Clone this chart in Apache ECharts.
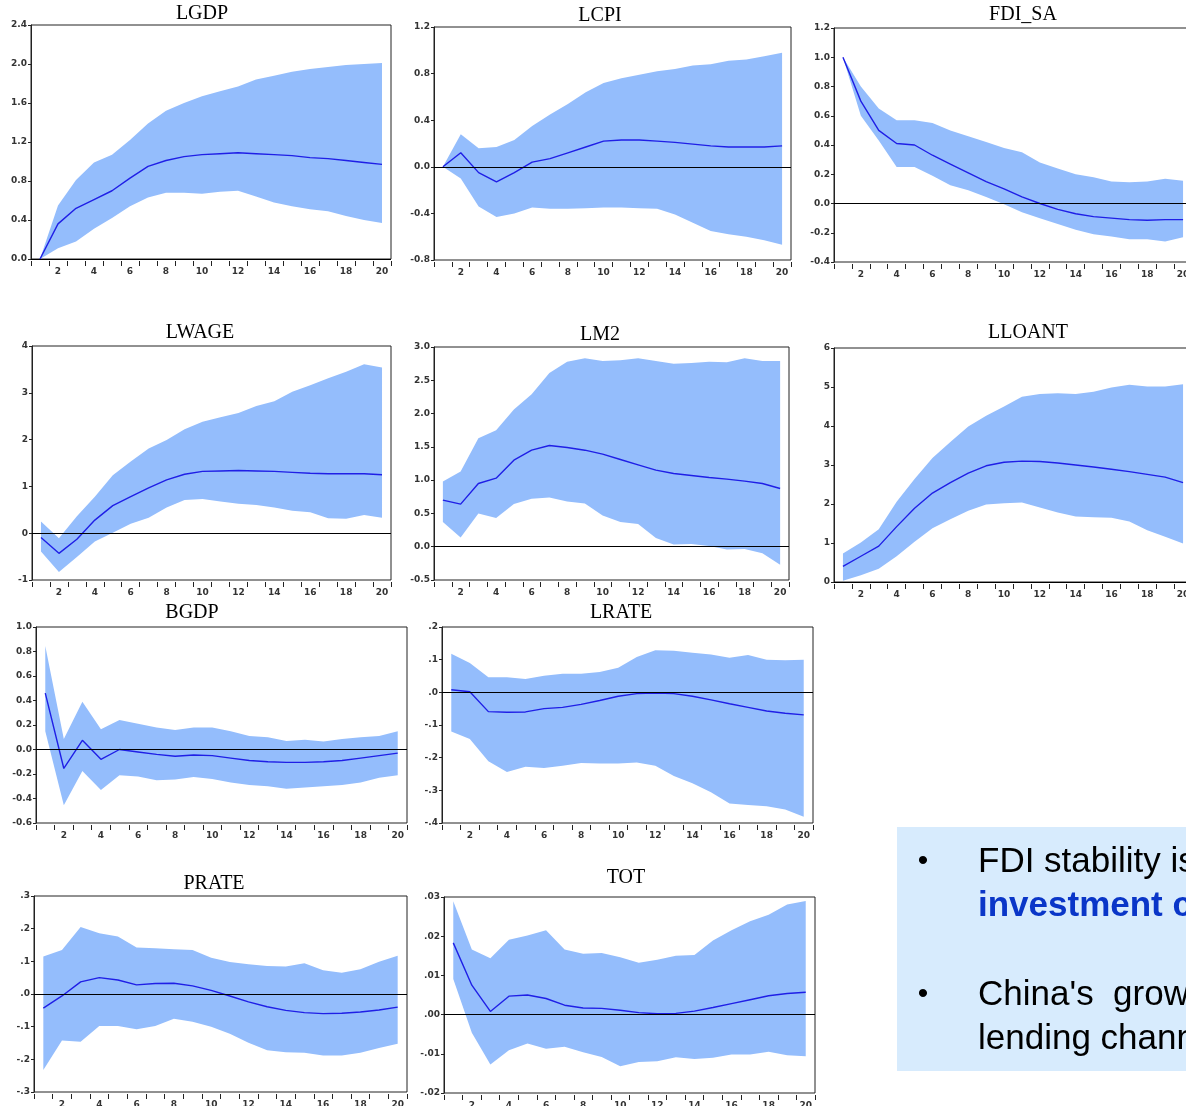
<!DOCTYPE html>
<html>
<head>
<meta charset="utf-8">
<script src="https://cdn.jsdelivr.net/npm/echarts@6/dist/echarts.min.js"></script>
<style>
  html, body { margin: 0; padding: 0; background: #fff; }
  #chart { width: 1186px; height: 1106px; }
</style>
</head>
<body>
<div id="chart"></div>
<script>
// periods 1..20
const periods = ['1','2','3','4','5','6','7','8','9','10','11','12','13','14','15','16','17','18','19','20'];

// impulse responses (line) with lower / upper bands
const lgdpLine  = [0, 0.36, 0.52, 0.61, 0.70, 0.83, 0.95, 1.01, 1.05, 1.07, 1.08, 1.09, 1.08, 1.07, 1.06, 1.04, 1.03, 1.01, 0.99, 0.97];
const lgdpLower = [0, 0.11, 0.18, 0.31, 0.42, 0.54, 0.63, 0.68, 0.68, 0.67, 0.69, 0.70, 0.64, 0.58, 0.54, 0.51, 0.49, 0.44, 0.40, 0.37];
const lgdpUpper = [0, 0.55, 0.81, 0.99, 1.07, 1.22, 1.39, 1.52, 1.60, 1.67, 1.72, 1.77, 1.84, 1.88, 1.92, 1.95, 1.97, 1.99, 2.00, 2.01];

const lcpiLine  = [0, 0.12, -0.05, -0.13, -0.05, 0.04, 0.07, 0.12, 0.17, 0.22, 0.23, 0.23, 0.22, 0.21, 0.195, 0.18, 0.17, 0.17, 0.17, 0.18];
const lcpiLower = [0, -0.10, -0.34, -0.43, -0.40, -0.35, -0.36, -0.36, -0.355, -0.35, -0.35, -0.355, -0.36, -0.41, -0.48, -0.55, -0.58, -0.60, -0.63, -0.67];
const lcpiUpper = [0, 0.28, 0.16, 0.17, 0.23, 0.35, 0.45, 0.54, 0.64, 0.72, 0.76, 0.79, 0.82, 0.84, 0.87, 0.88, 0.91, 0.92, 0.95, 0.98];

const fdiLine  = [1.0, 0.70, 0.50, 0.41, 0.40, 0.33, 0.27, 0.21, 0.15, 0.10, 0.045, 0.0, -0.04, -0.07, -0.09, -0.10, -0.11, -0.115, -0.11, -0.11];
const fdiLower = [1.0, 0.60, 0.43, 0.25, 0.25, 0.19, 0.125, 0.09, 0.045, -0.005, -0.06, -0.10, -0.14, -0.18, -0.21, -0.225, -0.245, -0.245, -0.26, -0.23];
const fdiUpper = [1.0, 0.80, 0.65, 0.57, 0.57, 0.55, 0.50, 0.46, 0.42, 0.38, 0.35, 0.28, 0.24, 0.20, 0.18, 0.15, 0.145, 0.15, 0.17, 0.155];

const lwageLine  = [-0.09, -0.43, -0.13, 0.28, 0.59, 0.78, 0.97, 1.14, 1.26, 1.32, 1.33, 1.34, 1.33, 1.32, 1.30, 1.28, 1.27, 1.27, 1.27, 1.25];
const lwageLower = [-0.39, -0.83, -0.51, -0.18, 0.01, 0.20, 0.33, 0.55, 0.71, 0.73, 0.68, 0.63, 0.60, 0.55, 0.48, 0.45, 0.32, 0.31, 0.39, 0.33];
const lwageUpper = [0.25, -0.11, 0.36, 0.78, 1.24, 1.53, 1.81, 1.99, 2.22, 2.38, 2.48, 2.57, 2.72, 2.82, 3.02, 3.16, 3.31, 3.45, 3.61, 3.54];

const lm2Line  = [0.70, 0.64, 0.95, 1.03, 1.30, 1.45, 1.52, 1.49, 1.45, 1.39, 1.31, 1.23, 1.15, 1.10, 1.07, 1.04, 1.015, 0.985, 0.95, 0.875];
const lm2Lower = [0.37, 0.14, 0.50, 0.43, 0.64, 0.72, 0.74, 0.68, 0.65, 0.47, 0.37, 0.34, 0.13, 0.035, 0.04, 0.01, -0.04, -0.035, -0.10, -0.27];
const lm2Upper = [0.98, 1.13, 1.63, 1.75, 2.06, 2.29, 2.61, 2.78, 2.83, 2.79, 2.80, 2.83, 2.79, 2.75, 2.76, 2.78, 2.77, 2.83, 2.79, 2.79];

const lloantLine  = [0.40, 0.66, 0.92, 1.42, 1.89, 2.28, 2.55, 2.79, 2.98, 3.07, 3.10, 3.09, 3.05, 3.00, 2.95, 2.89, 2.83, 2.76, 2.69, 2.55];
const lloantLower = [0.03, 0.17, 0.34, 0.66, 1.03, 1.38, 1.61, 1.83, 1.99, 2.02, 2.04, 1.91, 1.78, 1.68, 1.66, 1.65, 1.55, 1.33, 1.16, 0.99];
const lloantUpper = [0.73, 1.01, 1.35, 2.06, 2.64, 3.18, 3.59, 3.99, 4.26, 4.50, 4.75, 4.82, 4.84, 4.82, 4.88, 4.99, 5.06, 5.01, 5.01, 5.07];

const bgdpLine  = [0.46, -0.155, 0.075, -0.08, 0.0, -0.02, -0.04, -0.055, -0.045, -0.05, -0.07, -0.09, -0.10, -0.105, -0.105, -0.10, -0.09, -0.07, -0.05, -0.03];
const bgdpLower = [0.15, -0.455, -0.175, -0.33, -0.21, -0.22, -0.25, -0.245, -0.225, -0.24, -0.27, -0.29, -0.30, -0.32, -0.31, -0.30, -0.29, -0.27, -0.23, -0.21];
const bgdpUpper = [0.845, 0.085, 0.39, 0.165, 0.24, 0.21, 0.18, 0.16, 0.18, 0.18, 0.15, 0.11, 0.10, 0.07, 0.08, 0.065, 0.085, 0.10, 0.11, 0.15];

const lrateLine  = [0.008, 0.002, -0.059, -0.061, -0.06, -0.05, -0.046, -0.037, -0.025, -0.012, -0.004, -0.002, -0.004, -0.012, -0.023, -0.035, -0.046, -0.057, -0.064, -0.069];
const lrateLower = [-0.12, -0.143, -0.211, -0.244, -0.228, -0.232, -0.225, -0.216, -0.218, -0.218, -0.215, -0.225, -0.256, -0.278, -0.306, -0.34, -0.345, -0.349, -0.359, -0.381];
const lrateUpper = [0.118, 0.09, 0.046, 0.046, 0.041, 0.051, 0.057, 0.057, 0.062, 0.075, 0.108, 0.129, 0.127, 0.121, 0.116, 0.106, 0.114, 0.10, 0.098, 0.10];

const prateLine  = [-0.043, -0.006, 0.037, 0.05, 0.043, 0.028, 0.032, 0.033, 0.025, 0.011, -0.006, -0.024, -0.039, -0.05, -0.057, -0.06, -0.059, -0.055, -0.049, -0.04];
const prateLower = [-0.233, -0.142, -0.146, -0.098, -0.098, -0.108, -0.098, -0.076, -0.085, -0.10, -0.122, -0.149, -0.172, -0.178, -0.18, -0.188, -0.188, -0.18, -0.165, -0.152];
const prateUpper = [0.115, 0.135, 0.205, 0.186, 0.176, 0.142, 0.14, 0.137, 0.135, 0.111, 0.098, 0.091, 0.086, 0.084, 0.094, 0.073, 0.065, 0.076, 0.099, 0.117];

const totLine  = [0.0183, 0.0075, 0.0008, 0.0047, 0.005, 0.0041, 0.0024, 0.0017, 0.0016, 0.0011, 0.0005, 0.0002, 0.0003, 0.0009, 0.0018, 0.0028, 0.0038, 0.0048, 0.0054, 0.0057];
const totLower = [0.0091, -0.0046, -0.0127, -0.0091, -0.0074, -0.0087, -0.0082, -0.0096, -0.0108, -0.0132, -0.0121, -0.0119, -0.0109, -0.0113, -0.011, -0.0102, -0.0102, -0.0095, -0.0104, -0.0106];
const totUpper = [0.0289, 0.0166, 0.0144, 0.0191, 0.0202, 0.0215, 0.0166, 0.0155, 0.0157, 0.0146, 0.0132, 0.014, 0.015, 0.0152, 0.0189, 0.0215, 0.0238, 0.0255, 0.0281, 0.029];

// panel layout: frame [left, top, width, height], title centre [x, y]
const panels = [
  {name: 'LGDP',   line: lgdpLine,   lo: lgdpLower,   hi: lgdpUpper,   min: 0,    max: 2.4,  step: 0.4,  fmt: 'd1', box: [31, 25, 360, 234],   title: [202, 15]},
  {name: 'LCPI',   line: lcpiLine,   lo: lcpiLower,   hi: lcpiUpper,   min: -0.8, max: 1.2,  step: 0.4,  fmt: 'd1', box: [434, 27, 357, 233],  title: [600, 17]},
  {name: 'FDI_SA', line: fdiLine,    lo: fdiLower,    hi: fdiUpper,    min: -0.4, max: 1.2,  step: 0.2,  fmt: 'd1', box: [834, 28, 358, 234],  title: [1023, 16]},
  {name: 'LWAGE',  line: lwageLine,  lo: lwageLower,  hi: lwageUpper,  min: -1,   max: 4,    step: 1,    fmt: 'int', box: [32, 346, 359, 234], title: [200, 334]},
  {name: 'LM2',    line: lm2Line,    lo: lm2Lower,    hi: lm2Upper,    min: -0.5, max: 3.0,  step: 0.5,  fmt: 'd1', box: [434, 347, 355, 233], title: [600, 336]},
  {name: 'LLOANT', line: lloantLine, lo: lloantLower, hi: lloantUpper, min: 0,    max: 6,    step: 1,    fmt: 'int', box: [834, 348, 358, 234], title: [1028, 334]},
  {name: 'BGDP',   line: bgdpLine,   lo: bgdpLower,   hi: bgdpUpper,   min: -0.6, max: 1.0,  step: 0.2,  fmt: 'd1', box: [36, 627, 371, 196],  title: [192, 614]},
  {name: 'LRATE',  line: lrateLine,  lo: lrateLower,  hi: lrateUpper,  min: -0.4, max: 0.2,  step: 0.1,  fmt: 'p1', box: [442, 627, 371, 196], title: [621, 614]},
  {name: 'PRATE',  line: prateLine,  lo: prateLower,  hi: prateUpper,  min: -0.3, max: 0.3,  step: 0.1,  fmt: 'p1', box: [34, 896, 373, 196],  title: [214, 885]},
  {name: 'TOT',    line: totLine,    lo: totLower,    hi: totUpper,    min: -0.02, max: 0.03, step: 0.01, fmt: 'p2', box: [444, 897, 371, 196], title: [626, 879]}
];

const bandColor = '#94bdfc';
const lineColor = '#1f1fe6';
const labelFont = {fontFamily: 'DejaVu Sans', fontSize: 9, fontWeight: 'bold', color: '#333'};

function tickFormatter(kind) {
  return function (v) {
    if (kind === 'int') return String(Math.round(v));
    let s = v.toFixed(kind === 'p2' ? 2 : 1);
    if (/^-0\.0+$/.test(s)) s = s.slice(1);
    if (kind[0] === 'p') s = s.replace(/^(-?)0\./, '$1.');
    return s;
  };
}

let grid = [], xAxis = [], yAxis = [], title = [], series = [];

panels.forEach((p, i) => {
  // outerBoundsMode none: keep the frame where it is even if it runs off the page
  grid.push({
    left: p.box[0], top: p.box[1], width: p.box[2], height: p.box[3], outerBoundsMode: 'none',
    show: true, borderColor: '#222', borderWidth: 1, backgroundColor: 'transparent'
  });
  xAxis.push({
    type: 'category', gridIndex: i, data: periods, boundaryGap: true, position: 'bottom', offset: 2,
    axisLine: {show: false, onZero: false},
    axisTick: {show: true, interval: 0, length: 5, lineStyle: {color: '#222'}},
    axisLabel: Object.assign({interval: (idx) => idx % 2 === 1, margin: 6}, labelFont),
    splitLine: {show: false}
  });
  yAxis.push({
    type: 'value', gridIndex: i, min: p.min, max: p.max, interval: p.step,
    axisLine: {show: true, onZero: false, lineStyle: {color: '#222'}},
    axisTick: {show: true, length: 3, lineStyle: {color: '#222'}},
    axisLabel: Object.assign({formatter: tickFormatter(p.fmt), margin: 4}, labelFont),
    splitLine: {show: false}
  });
  title.push({
    text: p.name, left: p.title[0], top: p.title[1] - 11, textAlign: 'center', padding: 0,
    textStyle: {fontFamily: 'Liberation Serif', fontSize: 20, fontWeight: 'normal', color: '#000'}
  });
  // band: lower bound + (upper - lower) stacked
  series.push({
    type: 'line', xAxisIndex: i, yAxisIndex: i, data: p.lo, stack: 'band' + i, stackStrategy: 'all',
    symbol: 'none', lineStyle: {opacity: 0}, silent: true, z: 1
  });
  series.push({
    type: 'line', xAxisIndex: i, yAxisIndex: i, stack: 'band' + i, stackStrategy: 'all',
    data: p.hi.map((v, k) => +(v - p.lo[k]).toFixed(6)),
    symbol: 'none', lineStyle: {opacity: 0}, areaStyle: {color: bandColor, opacity: 1}, silent: true, z: 1
  });
  series.push({
    type: 'line', xAxisIndex: i, yAxisIndex: i, data: p.line, name: p.name,
    symbol: 'none', lineStyle: {color: lineColor, width: 1.4}, z: 3,
    markLine: {
      silent: true, symbol: 'none', label: {show: false},
      lineStyle: {color: '#000', width: 1, type: 'solid'},
      data: [{yAxis: 0}]
    }
  });
});

// side note box (cut at the page edge)
const noteFont = 'Liberation Sans';
const graphic = [
  {type: 'rect', left: 897, top: 827, shape: {width: 300, height: 244}, style: {fill: '#d7ebfd'}, z: 0},
  {type: 'text', x: 923, y: 862, style: {text: '•', font: '30px ' + noteFont, fill: '#000', align: 'center', verticalAlign: 'middle'}},
  {type: 'text', x: 978, y: 862, style: {text: 'FDI stability is', font: '35px ' + noteFont, fill: '#000', verticalAlign: 'middle'}},
  {type: 'text', x: 978, y: 906, style: {text: 'investment c', font: 'bold 35px ' + noteFont, fill: '#0a36c8', verticalAlign: 'middle'}},
  {type: 'text', x: 923, y: 995, style: {text: '•', font: '30px ' + noteFont, fill: '#000', align: 'center', verticalAlign: 'middle'}},
  {type: 'text', x: 978, y: 995, style: {text: "China's  growth", font: '35px ' + noteFont, fill: '#000', verticalAlign: 'middle'}},
  {type: 'text', x: 978, y: 1039, style: {text: 'lending channel', font: '35px ' + noteFont, fill: '#000', verticalAlign: 'middle'}}
];

const chart = echarts.init(document.getElementById('chart'));
chart.setOption({
  animation: false,
  backgroundColor: '#fff',
  title: title,
  grid: grid,
  xAxis: xAxis,
  yAxis: yAxis,
  series: series,
  graphic: graphic
});
</script>
</body>
</html>
